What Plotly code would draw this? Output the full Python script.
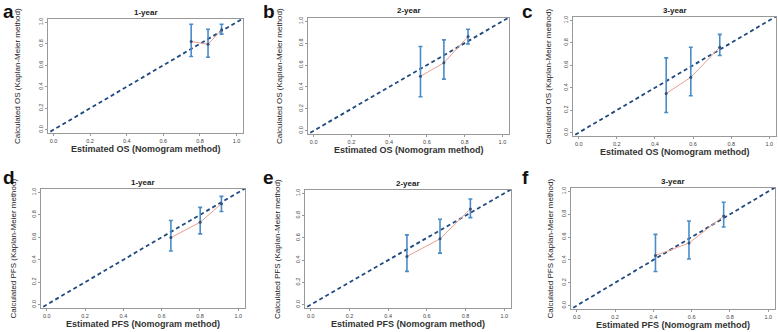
import plotly.graph_objects as go

W, H = 778, 332

letters = ["a", "b", "c", "d", "e", "f"]
titles = ["1-year", "2-year", "3-year", "1-year", "2-year", "3-year"]
x_titles = ["Estimated OS (Nomogram method)"] * 3 + ["Estimated PFS (Nomogram method)"] * 3
y_titles = ["Calculated OS (Kaplan-Meier method)"] * 3 + ["Calculated PFS (Kaplan-Meier method)"] * 3

# predicted (nomogram) values
pred_a = [0.752, 0.844, 0.918]
pred_b = [0.566, 0.690, 0.818]
pred_c = [0.459, 0.588, 0.740]
pred_d = [0.648, 0.801, 0.912]
pred_e = [0.497, 0.668, 0.825]
pred_f = [0.411, 0.586, 0.767]
# observed (Kaplan-Meier) values
obs_a = [0.820, 0.796, 0.929]
obs_b = [0.498, 0.620, 0.861]
obs_c = [0.349, 0.493, 0.761]
obs_d = [0.597, 0.734, 0.899]
obs_e = [0.433, 0.591, 0.860]
obs_f = [0.438, 0.548, 0.784]
# confidence limits
upper_a = [0.981, 0.935, 0.981]
lower_a = [0.681, 0.675, 0.889]
upper_b = [0.770, 0.830, 0.927]
lower_b = [0.311, 0.471, 0.792]
upper_c = [0.666, 0.761, 0.875]
lower_c = [0.179, 0.328, 0.687]
upper_d = [0.749, 0.866, 0.964]
lower_d = [0.478, 0.630, 0.830]
upper_e = [0.627, 0.767, 0.949]
lower_e = [0.299, 0.463, 0.782]
upper_f = [0.624, 0.741, 0.905]
lower_f = [0.299, 0.408, 0.689]

diag = [-0.05, 1.06]
x_ticks = [0.0, 0.2, 0.4, 0.6, 0.8, 1.0]

preds = [pred_a, pred_b, pred_c, pred_d, pred_e, pred_f]
obss = [obs_a, obs_b, obs_c, obs_d, obs_e, obs_f]
ups = [upper_a, upper_b, upper_c, upper_d, upper_e, upper_f]
lows = [lower_a, lower_b, lower_c, lower_d, lower_e, lower_f]

# plot boxes in pixels: (left, right, top, bottom)
boxes = [
    (48, 243, 19, 133),
    (308, 509, 18, 134),
    (573, 776, 17, 136),
    (41, 245, 189, 308),
    (305, 511, 190, 308),
    (571, 775, 188, 309),
]
ytitle_x = [18, 280, 548, 13, 277, 550]

fig = go.Figure()
annotations = []
FONT = "Liberation Sans, Arial, sans-serif"

for i in range(6):
    n = "" if i == 0 else str(i + 1)
    xa, ya = "x" + n, "y" + n
    l, r, t, b = boxes[i]
    fig.add_trace(go.Scatter(x=diag, y=diag, mode="lines", xaxis=xa, yaxis=ya,
                             line=dict(color="#1f4a80", width=1.8, dash="4px,3px"),
                             hoverinfo="skip", showlegend=False))
    fig.add_trace(go.Scatter(x=preds[i], y=obss[i], mode="lines", xaxis=xa, yaxis=ya,
                             line=dict(color="#e8a090", width=1),
                             showlegend=False))
    fig.add_trace(go.Scatter(
        x=preds[i], y=obss[i], mode="markers", xaxis=xa, yaxis=ya,
        marker=dict(color="#34507a", size=3),
        error_y=dict(type="data", symmetric=False,
                     array=[u - o for u, o in zip(ups[i], obss[i])],
                     arrayminus=[o - lo for o, lo in zip(obss[i], lows[i])],
                     color="#4a8cc8", thickness=1.6, width=2),
        showlegend=False))
    axcommon = dict(showline=True, mirror=True, linecolor="#999999", linewidth=1,
                    showgrid=False, zeroline=False, ticks="outside", ticklen=2,
                    tickcolor="#999999", tickvals=x_ticks,
                    ticktext=[f"{v:.1f}" for v in x_ticks],
                    tickfont=dict(size=5.5, color="#444444", family=FONT))
    fig.layout["xaxis" + n] = dict(domain=[l / W, r / W], range=[-0.03, 1.035],
                                   anchor=ya, **axcommon)
    fig.layout["yaxis" + n] = dict(domain=[1 - b / H, 1 - t / H], range=[-0.03, 1.03],
                                   anchor=xa, tickangle=-90, **axcommon)
    cx = (l + r) / 2 / W
    common = dict(xref="paper", yref="paper", showarrow=False,
                  xanchor="center", yanchor="middle")
    annotations.append(dict(text="<b>" + titles[i] + "</b>", x=cx, y=1 - (t - 7) / H,
                            font=dict(size=8, color="#222222", family=FONT), **common))
    annotations.append(dict(text="<b>" + x_titles[i] + "</b>", x=cx, y=1 - (b + 16) / H,
                            font=dict(size=9, color="#333333", family=FONT), **common))
    annotations.append(dict(text=y_titles[i], x=ytitle_x[i] / W,
                            y=1 - (t + b) / 2 / H, textangle=-90,
                            font=dict(size=8, color="#222222", family=FONT), **common))
    lx = [2, 262, 521, 2, 262, 521][i]
    ly = [0, 0, 0, 166, 166, 166][i]
    annotations.append(dict(text="<b>" + letters[i] + "</b>", x=lx / W, y=1 - ly / H,
                            xref="paper", yref="paper", showarrow=False,
                            xanchor="left", yanchor="top", borderpad=0,
                            font=dict(size=19, color="#111111", family=FONT)))

fig.update_layout(width=W, height=H, margin=dict(l=0, r=0, t=0, b=0),
                  paper_bgcolor="white", plot_bgcolor="white",
                  annotations=annotations)
fig.write_html("out.html", config={"displayModeBar": False},
               post_script="document.body.style.margin='0px';")
